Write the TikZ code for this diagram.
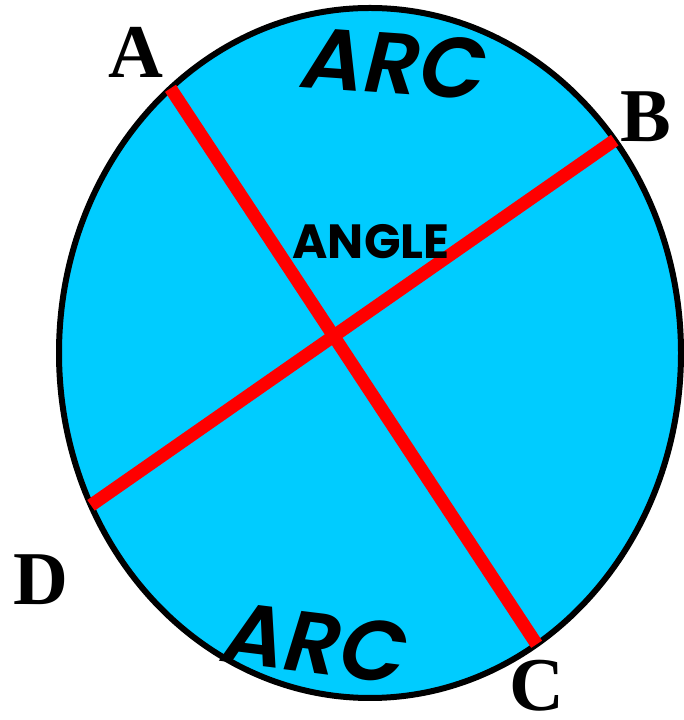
\documentclass[tikz,border=0pt]{standalone}
\usepackage{fontspec}
\setmainfont{Liberation Serif}
\newfontfamily\arcfont{Poppins}[BoldItalicFont={Poppins SemiBold Italic}]
\newfontfamily\anglefont{Poppins}
\usetikzlibrary{calc}
\definecolor{skyfill}{HTML}{00CCFF}
\definecolor{chordred}{HTML}{FF0000}

\begin{document}
\begin{tikzpicture}[x=1pt,y=1pt,
disc/.style={draw=black,line width=6pt,fill=skyfill},
chord/.style={draw=chordred,line width=13pt},
pointlbl/.style={font=\fontsize{76}{76}\selectfont\bfseries,inner sep=0pt},
arclbl/.style={font=\arcfont\fontsize{86}{86}\selectfont\bfseries\itshape,inner sep=0pt},
anglelbl/.style={font=\anglefont\fontsize{48}{48}\selectfont\bfseries,inner sep=0pt}]
\useasboundingbox (0,0) rectangle (684,720);
\coordinate (O) at (370,367);
\draw[disc] (O) ellipse [x radius=311,y radius=345];
% chord end points on the rim
\coordinate (a) at ($(O)+(129.9:311 and 345)$);
\coordinate (b) at ($(O)+(38.1:311 and 345)$);
\coordinate (c) at ($(O)+(-57.6:311 and 345)$);
\coordinate (d) at ($(O)+(206.2:311 and 345)$);
\draw[chord] (a) -- (c);
\draw[chord] (b) -- (d);
% labels
\node[pointlbl] (A) at (136,668) {A};
\node[pointlbl] (B) at (646,603) {B};
\node[pointlbl] (C) at (537,34) {C};
\node[pointlbl] (D) at (41,140) {D};
\node[arclbl,rotate=-4] (arctop) at (395,656) {ARC};
\node[arclbl,rotate=-7] (arcbot) at (316,77) {ARC};
\node[anglelbl] (angle) at (371,478) {ANGLE};
\end{tikzpicture}
\end{document}
